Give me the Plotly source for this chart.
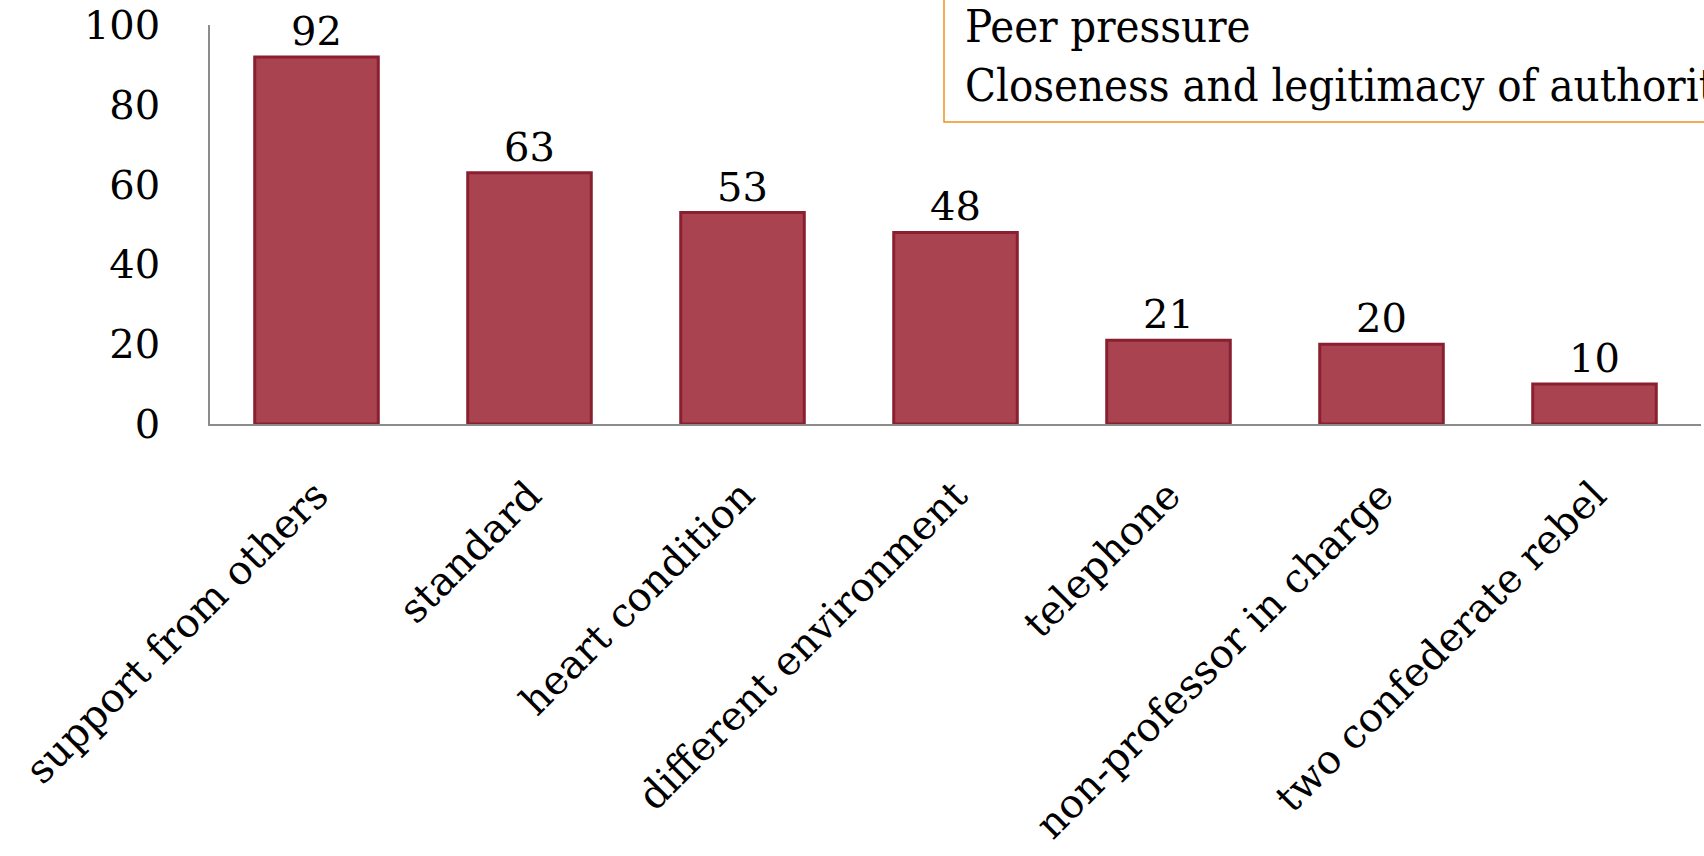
import plotly.graph_objects as go

categories = ["support from others", "standard", "heart condition", "different environment",
              "telephone", "non-professor in charge", "two confederate rebel"]
values = [92, 63, 53, 48, 21, 20, 10]
y_ticks = [0, 20, 40, 60, 80, 100]
legend_lines = ["Peer pressure", "Closeness and legitimacy of authority"]

FONT = "DejaVu Serif"
W, H = 1704, 856
L, R, T, B = 210, 3, 25, 432
PW, PH = W - L - R, H - T - B

fig = go.Figure()
fig.add_trace(go.Bar(
    x=categories, y=values,
    text=[str(v) for v in values], textposition="outside",
    textfont=dict(family=FONT, size=40, color="black"),
    marker=dict(color="#AA4350", line=dict(color="#8A1F30", width=3)),
    width=0.58, cliponaxis=False,
))

fig.update_layout(
    width=W, height=H,
    margin=dict(l=L, r=R, t=T, b=B),
    paper_bgcolor="white", plot_bgcolor="white",
    showlegend=False,
    font=dict(family=FONT, color="black"),
)
fig.update_yaxes(range=[0, 100], tickvals=y_ticks, showgrid=False, zeroline=False,
                 showline=True, linecolor="#8c8c8c", linewidth=1.5, automargin=False,
                 tickfont=dict(family=FONT, size=40), ticks="", ticklabelstandoff=40)
fig.update_xaxes(showgrid=False, showline=True, linecolor="#8c8c8c", linewidth=1.5,
                 tickangle=-45, tickfont=dict(family=FONT, size=40), ticks="",
                 ticklabelstandoff=30, automargin=False)

fig.add_shape(type="rect", xref="paper", yref="paper",
              x0=(944 - L) / PW, x1=1.2, y0=(H - B - 122) / PH, y1=1.2,
              line=dict(color="#F0901E", width=1.5), fillcolor="white", layer="above")
for line, yc in zip(legend_lines, [26, 85]):
    fig.add_annotation(xref="paper", yref="paper", x=(963 - L) / PW, y=(H - B - yc) / PH,
                       xanchor="left", yanchor="middle", align="left", showarrow=False,
                       text=line,
                       font=dict(family="DejaVu Serif Condensed, Liberation Serif", size=45,
                                 color="black"))

fig.write_html("out.html")
